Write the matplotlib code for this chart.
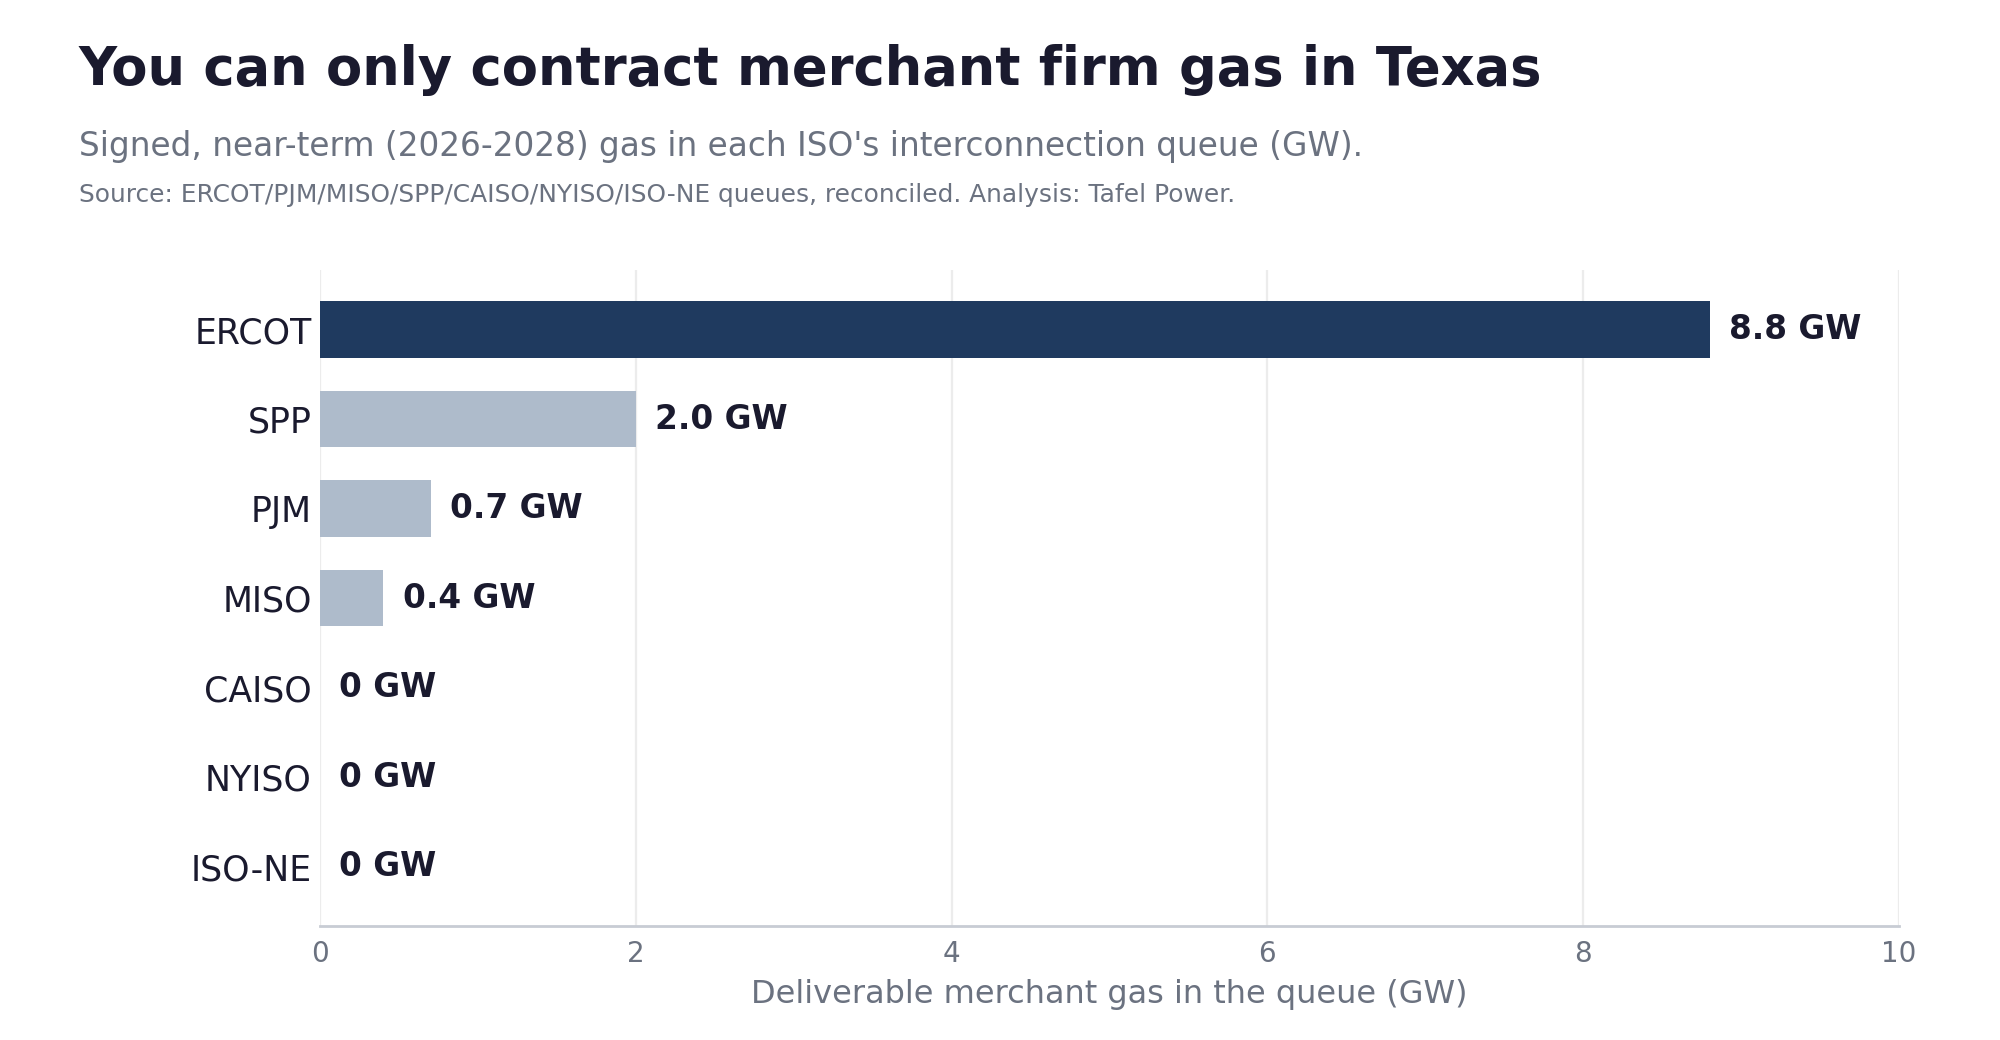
import matplotlib

matplotlib.use("Agg")
import matplotlib.pyplot as plt

plt.rcParams["font.family"] = ["DejaVu Sans"]

# data
isos = ["ERCOT", "SPP", "PJM", "MISO", "CAISO", "NYISO", "ISO-NE"]
gw = [8.8, 2.0, 0.7, 0.4, 0.0, 0.0, 0.0]
value_labels = ["8.8 GW", "2.0 GW", "0.7 GW", "0.4 GW", "0 GW", "0 GW", "0 GW"]
highlight = "ERCOT"
x_ticks = [0, 2, 4, 6, 8, 10]

DARK = "#1a1a2e"
GRAY = "#6b7280"
NAVY = "#1f3a5f"
LIGHT = "#aebbcb"

fig = plt.figure(figsize=(10, 5.2), dpi=200)
ax = fig.add_axes([0.16, 0.1096, 0.7895, 0.6304])

colors = [NAVY if name == highlight else LIGHT for name in isos]
ypos = list(range(len(isos)))
ax.barh(ypos, gw, height=0.63, color=colors, zorder=3)

for y, v, lab in zip(ypos, gw, value_labels):
    ax.annotate(lab, xy=(v, y), xytext=(7, 0), textcoords="offset points",
                va="center", ha="left", fontsize=11.8, fontweight="bold", color=DARK)

ax.set_yticks(ypos)
ax.set_yticklabels(isos, fontsize=12.5, color=DARK)
ax.set_ylim(len(isos) - 1 + 0.66, -0.66)
ax.set_xlim(0, 10)
ax.set_xticks(x_ticks)
ax.set_xticklabels([str(t) for t in x_ticks], fontsize=10, color=GRAY)
ax.tick_params(axis="both", length=0)
ax.tick_params(axis="y", pad=3)
ax.tick_params(axis="x", pad=5)
ax.set_xlabel("Deliverable merchant gas in the queue (GW)", fontsize=11.5, color=GRAY, labelpad=4)

ax.grid(axis="x", color="#ececec", linewidth=0.8, zorder=0)
ax.grid(axis="y", visible=False)
for side in ["top", "right", "left"]:
    ax.spines[side].set_visible(False)
ax.spines["bottom"].set_color("#c8ccd4")
ax.spines["bottom"].set_linewidth(1.0)

fig.text(0.0395, 0.918, "You can only contract merchant firm gas in Texas",
         fontsize=19, fontweight="bold", color=DARK, ha="left", va="baseline")
fig.text(0.0395, 0.850, "Signed, near-term (2026-2028) gas in each ISO's interconnection queue (GW).",
         fontsize=11.8, color=GRAY, ha="left", va="baseline")
fig.text(0.0395, 0.806, "Source: ERCOT/PJM/MISO/SPP/CAISO/NYISO/ISO-NE queues, reconciled. Analysis: Tafel Power.",
         fontsize=8.95, color=GRAY, ha="left", va="baseline")

fig.savefig("out.png", dpi=200, facecolor="white")
